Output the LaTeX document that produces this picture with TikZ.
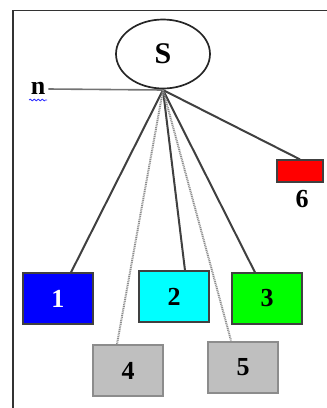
\documentclass[tikz,border=0pt]{standalone}
\usepackage{fontspec}
\setmainfont{Liberation Serif}
\usetikzlibrary{shapes.geometric,decorations.pathmorphing}
\definecolor{aqua}{RGB}{0,255,255}
\definecolor{lime}{RGB}{0,255,0}
\definecolor{deepblue}{RGB}{0,0,255}
\definecolor{brightred}{RGB}{255,0,0}
\begin{document}
\begin{tikzpicture}[x=1pt,y=-1pt,
  lbl/.style={font=\bfseries\fontsize{26}{26}\selectfont},
  leaf/.style={draw=black!75,line width=1.2pt,minimum width=70pt,minimum height=51pt,inner sep=0pt,lbl},
  greyleaf/.style={leaf,draw=black!45,line width=2pt,fill=black!25},
  link/.style={draw=black!75,line width=2pt},
  dotlink/.style={draw=black!45,line width=2pt,dash pattern=on 1pt off 0.8pt}]
\useasboundingbox (0,0) rectangle (327,408);
% open frame: top and left edges only
\draw[black!80,line width=1.6pt] (327,10.5) -- (13,10.5) -- (13,408);
% root
\node[ellipse,draw=black!85,line width=1.7pt,minimum width=94pt,minimum height=69pt,inner sep=0pt,font=\bfseries\fontsize{30}{30}\selectfont] (S) at (163,54) {S};
\coordinate (hub) at (163,90);
% side label with wavy underline
\node[lbl,inner sep=0pt] (n) at (38,88) {n};
\draw[blue!80,line width=0.8pt,decorate,decoration={snake,amplitude=0.9pt,segment length=4pt}] (29,100) -- (47,100);
\draw[black!55,line width=1.6pt] (n.east) ++(3,1) -- (hub);
% leaves
\node[leaf,fill=deepblue,text=white] (b1) at (58,298.5) {1};
\node[leaf,fill=aqua] (b2) at (174,296.5) {2};
\node[leaf,fill=lime] (b3) at (267,298.5) {3};
\node[greyleaf] (b4) at (128,370.5) {4};
\node[greyleaf] (b5) at (243,367) {5};
\node[draw=black!75,line width=1.2pt,fill=brightred,minimum width=46pt,minimum height=22pt,inner sep=0pt] (b6) at (300,171) {};
\node[lbl,inner sep=0pt] (l6) at (302,199) {6};
% connectors
\draw[link] (hub) -- ([xshift=13pt]b1.north);
\draw[link] (hub) -- ([xshift=11pt]b2.north);
\draw[link] (hub) -- ([xshift=-12pt]b3.north);
\draw[link] (hub) -- (b6.north);
\draw[dotlink] (hub) -- ([xshift=-11pt]b4.north);
\draw[dotlink] (hub) -- ([xshift=-12pt]b5.north);
\end{tikzpicture}
\end{document}
